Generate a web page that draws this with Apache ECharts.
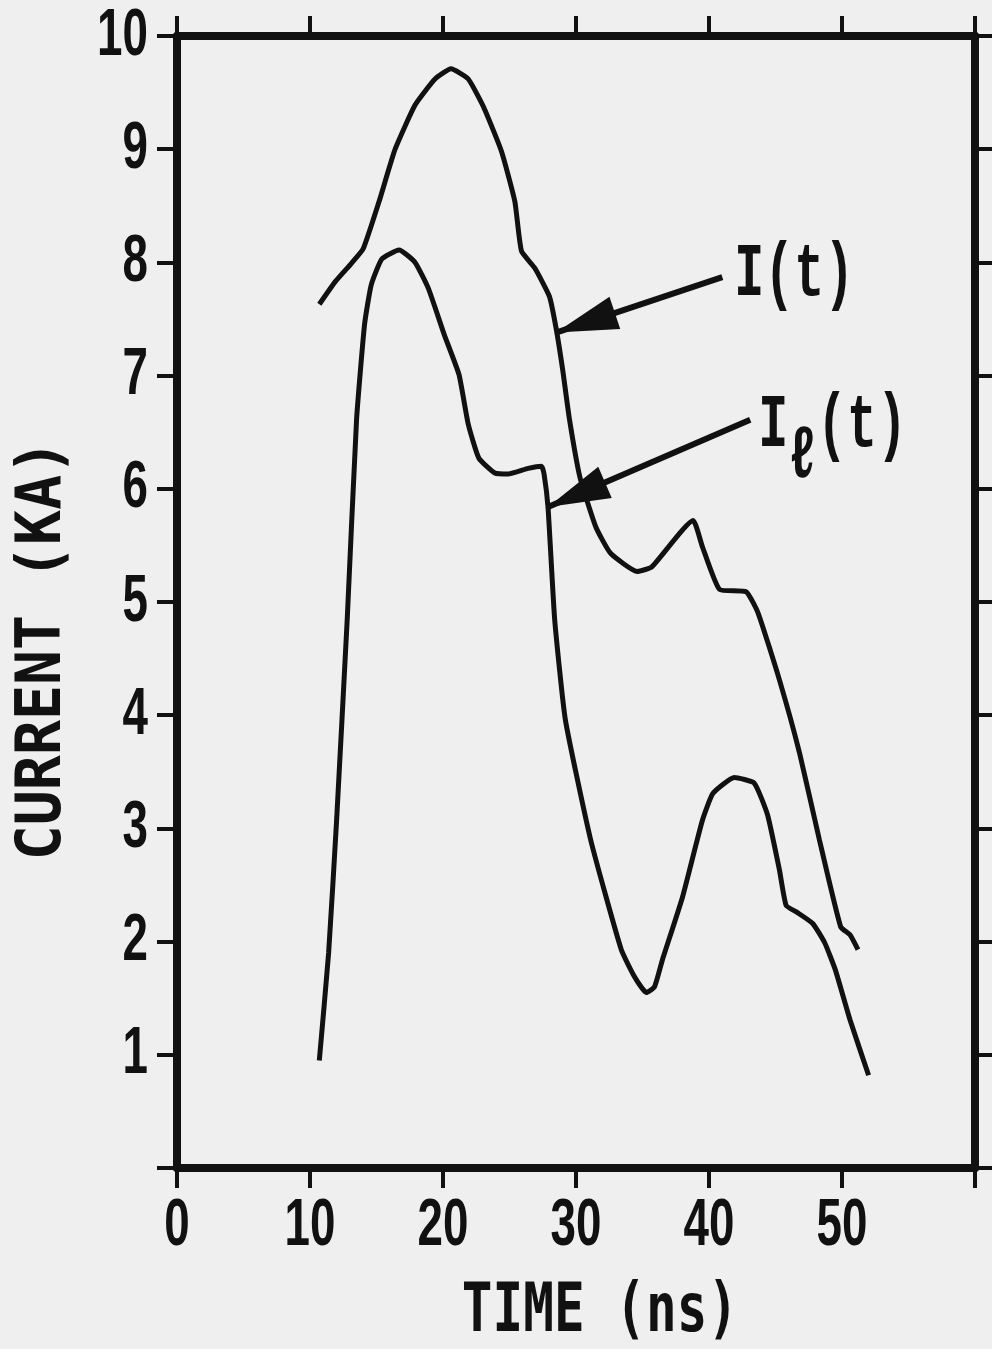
<!DOCTYPE html>
<html><head><meta charset="utf-8">
<script src="https://cdn.jsdelivr.net/npm/echarts@6.0.0/dist/echarts.min.js"></script>
<style>html,body{margin:0;padding:0;background:#efefef}#c{width:992px;height:1349px}</style>
</head><body><div id="c"></div>
<script>
// ---- data ----
const xTickLabels = [0, 10, 20, 30, 40, 50];
const yTickLabels = [1, 2, 3, 4, 5, 6, 7, 8, 9, 10];

const timeI = [10.7, 11.9, 13.1, 14.0, 15.2, 16.4, 17.9, 19.4, 20.6, 21.9, 23.1, 24.4, 25.4, 25.9, 26.9, 28.0, 28.5, 29.0, 29.5, 30.3, 31.5, 32.6, 34.6, 35.7, 38.8, 39.5, 40.8, 42.8, 43.7, 45.3, 46.8, 48.3, 49.9, 50.6, 51.2];
const currentI = [7.63, 7.83, 7.99, 8.12, 8.54, 9.00, 9.39, 9.62, 9.71, 9.62, 9.36, 8.98, 8.54, 8.10, 7.95, 7.70, 7.42, 7.05, 6.62, 6.10, 5.66, 5.43, 5.27, 5.31, 5.72, 5.49, 5.11, 5.09, 4.90, 4.31, 3.67, 2.90, 2.13, 2.06, 1.93];

const timeL = [10.7, 11.4, 12.0, 12.8, 13.5, 14.1, 14.6, 15.4, 16.7, 17.9, 18.9, 20.1, 21.2, 21.9, 22.7, 23.9, 24.9, 26.4, 27.4, 27.6, 27.9, 28.4, 29.2, 31.1, 33.4, 34.4, 35.3, 35.9, 36.5, 38.0, 39.5, 40.3, 41.9, 43.4, 44.4, 45.3, 45.8, 46.6, 47.8, 48.7, 49.5, 50.6, 52.0];
const currentL = [0.95, 1.90, 3.07, 4.85, 6.61, 7.45, 7.80, 8.03, 8.11, 8.00, 7.77, 7.36, 7.01, 6.57, 6.27, 6.14, 6.13, 6.18, 6.20, 6.13, 5.83, 4.84, 3.96, 2.90, 1.93, 1.69, 1.55, 1.60, 1.84, 2.39, 3.07, 3.31, 3.45, 3.40, 3.12, 2.63, 2.32, 2.26, 2.16, 1.99, 1.75, 1.31, 0.82];

// annotation arrows (data coordinates): tail -> tip, and label anchor
const arrowTailI = [41.0, 7.87];
const arrowTipI = [28.5, 7.38];
const labelAtI = [41.9, 7.88];
const arrowTailL = [43.1, 6.61];
const arrowTipL = [27.9, 5.84];
const labelAtL = [43.7, 6.55];

// ---- chart ----
const INK = '#111111';
const chart = echarts.init(document.getElementById('c'), null, {renderer: 'canvas'});

const pair = (xs, ys) => xs.map((x, i) => [x, ys[i]]);
const lineStyleAxis = {color: INK, width: 8};
const tickStyle = {show: true, inside: false, length: 20, lineStyle: {color: INK, width: 4}};
const wedge = 'path://M0,0 L0,0.01 M0,60 L14,120 L-14,120 Z';

function arrowLine(tail, tip) {
  return {
    silent: true,
    symbol: ['none', wedge],
    symbolSize: [34, 124],
    lineStyle: {color: INK, width: 6, type: 'solid'},
    label: {show: false},
    emphasis: {disabled: true},
    animation: false,
    data: [[{coord: tail}, {coord: tip}]]
  };
}

const xAxisBase = {
  type: 'value', min: 0, max: 60, interval: 10,
  axisLine: {show: true, onZero: false, lineStyle: lineStyleAxis},
  axisTick: tickStyle,
  axisLabel: {show: false},
  splitLine: {show: false}
};
const yAxisBase = {
  type: 'value', min: 0, max: 10, interval: 1,
  axisLine: {show: true, onZero: false, lineStyle: lineStyleAxis},
  axisTick: tickStyle,
  axisLabel: {show: false},
  splitLine: {show: false}
};

chart.setOption({
  animation: false,
  backgroundColor: '#efefef',
  grid: {left: 177, right: 17, top: 36, bottom: 181, outerBoundsMode: 'none', containLabel: false},
  xAxis: [
    Object.assign({}, xAxisBase, {position: 'bottom'}),
    Object.assign({}, xAxisBase, {position: 'top'})
  ],
  yAxis: [
    Object.assign({}, yAxisBase, {position: 'left'}),
    Object.assign({}, yAxisBase, {position: 'right'})
  ],
  series: [
    {
      name: 'I(t)', type: 'line', xAxisIndex: 0, yAxisIndex: 0,
      data: pair(timeI, currentI), showSymbol: false, smooth: 0.15,
      lineStyle: {color: INK, width: 5}, silent: true,
      markLine: arrowLine(arrowTailI, arrowTipI)
    },
    {
      name: 'Iℓ(t)', type: 'line', xAxisIndex: 0, yAxisIndex: 0,
      data: pair(timeL, currentL), showSymbol: false, smooth: 0.15,
      lineStyle: {color: INK, width: 5}, silent: true,
      markLine: arrowLine(arrowTailL, arrowTipL)
    }
  ]
});

const monoFam = '"Liberation Mono", "DejaVu Sans Mono", monospace';
const titleFam = '"DejaVu Sans Mono", "Liberation Mono", monospace';
const tickFontStr = 'bold 52px "Liberation Sans", "DejaVu Sans", sans-serif';

function txt(text, x, y, sx, sy, font, align, extra) {
  return Object.assign({
    type: 'text', x: x, y: y, scaleX: sx, scaleY: sy, silent: true,
    style: {text: text, fill: INK, font: font,
      textAlign: align, align: align, textVerticalAlign: 'middle', verticalAlign: 'middle'}
  }, extra || {});
}

const graphics = [];
// x tick labels (positioned on the axis scale)
xTickLabels.forEach(v => {
  const p = chart.convertToPixel({gridIndex: 0}, [v, 0]);
  graphics.push(txt(String(v), p[0], 1226, 0.88, 1.3, tickFontStr, 'center'));
});
// y tick labels
yTickLabels.forEach(v => {
  const p = chart.convertToPixel({gridIndex: 0}, [0, v]);
  graphics.push(txt(String(v), 148, p[1], 0.88, 1.3, tickFontStr, 'right'));
});
// axis titles
graphics.push(txt('TIME (ns)', 600, 1314, 0.85, 1.12, 'bold 60px ' + titleFam, 'center'));
graphics.push(txt('CURRENT (KA)', 44, 650, 0.97, 1.05, 'bold 60px ' + titleFam, 'center', {rotation: Math.PI / 2}));
// annotation labels
const pI = chart.convertToPixel({gridIndex: 0}, labelAtI);
const pL = chart.convertToPixel({gridIndex: 0}, labelAtL);
graphics.push(txt('I(t)', pI[0], pI[1], 0.96, 1.45, 'bold 52px ' + monoFam, 'left'));
const lab = txt('{a|I}{b|ℓ}{a|(t)}', pL[0], pL[1], 0.96, 1.45, 'bold 52px ' + monoFam, 'left');
lab.style.rich = {
  a: {fontSize: 52, fontWeight: 'bold', fontFamily: monoFam, fill: INK, color: INK},
  b: {fontSize: 50, fontWeight: 'bold', fontFamily: monoFam, fill: INK, color: INK, padding: [44, 0, 0, 0]}
};
graphics.push(lab);

chart.setOption({graphic: graphics});
</script>
</body></html>
